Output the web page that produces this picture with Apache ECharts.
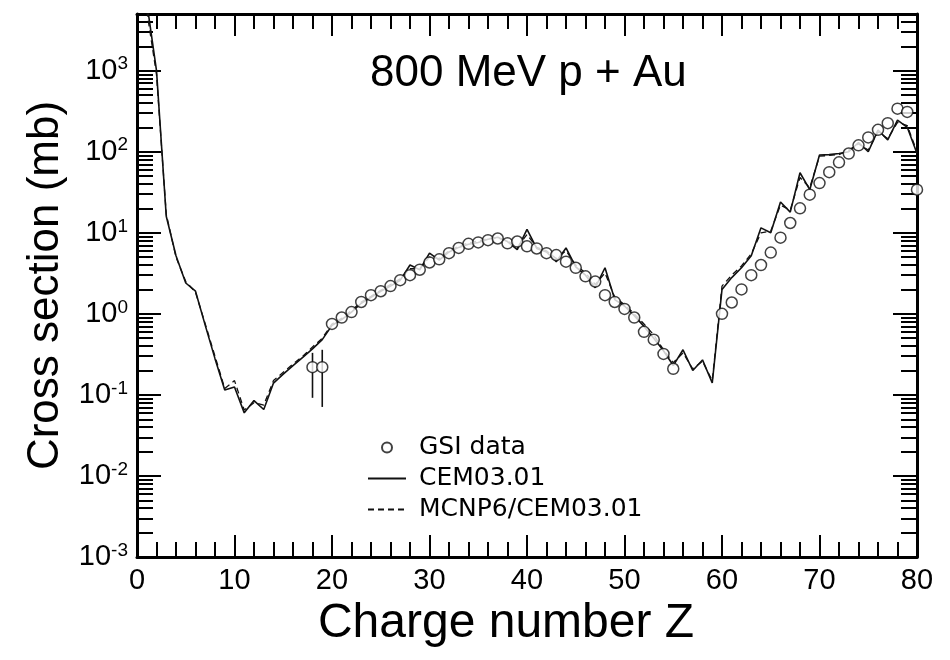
<!DOCTYPE html>
<html><head><meta charset="utf-8">
<script src="https://cdn.jsdelivr.net/npm/echarts@6/dist/echarts.min.js"></script>
<style>html,body{margin:0;padding:0;background:#fff}#c{width:950px;height:660px}</style>
</head><body><div id="c"></div>
<script>
// ---- data ----
const zValues = [1,2,3,4,5,6,7,8,9,10,11,12,13,14,15,16,17,18,19,20,21,22,23,24,25,26,27,28,29,30,31,32,33,34,35,36,37,38,39,40,41,42,43,44,45,46,47,48,49,50,51,52,53,54,55,56,57,58,59,60,61,62,63,64,65,66,67,68,69,70,71,72,73,74,75,76,77,78,79,80];
const cemValues = [7000,1000,16,5.2,2.4,1.9,0.72,0.28,0.115,0.125,0.06,0.085,0.066,0.14,0.18,0.23,0.29,0.37,0.48,0.72,0.85,1.05,1.35,1.6,1.9,2.2,2.6,4.0,3.5,5.6,4.6,5.8,6.6,7.2,7.6,8.3,8.8,7.8,6.2,11,6.4,5.8,4.4,6.5,3.8,3.0,2.1,3.7,1.5,1.25,0.95,0.7,0.5,0.35,0.23,0.36,0.2,0.27,0.14,2.0,2.8,3.7,5.2,11.5,10,24,18,55,34,91,92,95,100,130,100,185,140,245,200,95];
const mcnpValues = [5500,900,17,5.0,2.5,1.85,0.75,0.3,0.12,0.15,0.065,0.08,0.075,0.15,0.19,0.24,0.3,0.39,0.5,0.75,0.88,1.1,1.4,1.65,1.95,2.3,2.7,3.6,3.6,5.0,4.8,6.0,6.8,7.5,7.9,8.5,8.6,8.0,6.6,9.5,6.6,6.0,4.8,6.0,4.0,3.2,2.3,3.2,1.6,1.3,1.0,0.75,0.55,0.36,0.25,0.33,0.21,0.26,0.15,2.2,3.0,3.9,5.5,10,10.5,22,19,48,36,88,90,92,105,125,105,175,145,230,210,100];
const gsiZ = [18,19,20,21,22,23,24,25,26,27,28,29,30,31,32,33,34,35,36,37,38,39,40,41,42,43,44,45,46,47,48,49,50,51,52,53,54,55,60,61,62,63,64,65,66,67,68,69,70,71,72,73,74,75,76,77,78,79,80];
const gsiValues = [0.22,0.22,0.75,0.9,1.05,1.4,1.7,1.9,2.2,2.6,3.0,3.5,4.3,4.7,5.6,6.5,7.3,7.6,8.1,8.5,7.4,7.8,6.8,6.4,5.6,5.3,4.4,3.7,2.9,2.5,1.7,1.4,1.15,0.9,0.6,0.48,0.32,0.21,1.0,1.38,2.0,3.0,4.0,5.7,8.7,13.2,20,29.5,41,56,74,95,120,150,186,225,340,310,34];
const errZ = [18,19];
const errLow = [0.092,0.071];
const errHigh = [0.33,0.36];
const yDecades = [0.001,0.01,0.1,1,10,100,1000];
const yMinorMultipliers = [2,3,4,5,6,7,8,9];
const xMin = 0, xMax = 80, xMajorStep = 10, xMinorStep = 2;
const yMin = 0.001, yMax = 5000;

const yMinor = [];
yDecades.concat([10000]).forEach(d => yMinorMultipliers.forEach(m => { const v = +(d*m).toPrecision(3); if (v < yMax) yMinor.push(v); }));

const FONT = 'Liberation Sans, Arial, sans-serif';
const chart = echarts.init(document.getElementById('c'), null, {renderer: 'canvas'});

function xAx(grid, pos, step, len, showLabel, showLine) {
  return {
    type: 'value', gridIndex: grid, position: pos, min: xMin, max: xMax, interval: step,
    axisLine: {show: showLine, onZero: false, lineStyle: {color: '#000', width: 3}},
    axisTick: {show: true, inside: true, length: len, lineStyle: {color: '#000', width: 2}},
    axisLabel: {show: showLabel, margin: 9, fontSize: 29, color: '#000', fontFamily: FONT},
    splitLine: {show: false}
  };
}
function yAx(grid, pos, ticks, len, showLabel, showLine) {
  return {
    type: 'log', logBase: 10, gridIndex: grid, position: pos, min: yMin, max: yMax,
    axisLine: {show: showLine, onZero: false, lineStyle: {color: '#000', width: 3}},
    axisTick: {show: true, inside: true, length: len, customValues: ticks, lineStyle: {color: '#000', width: 2}},
    axisLabel: {show: showLabel, customValues: yDecades, margin: 9, color: '#000',
      formatter: function (v) { const e = Math.round(Math.log10(v)); return '{b|10}{s|' + e + '}'; },
      rich: {
        b: {fontSize: 29, fontFamily: FONT, color: '#000', lineHeight: 32},
        s: {fontSize: 19, fontFamily: FONT, color: '#000', lineHeight: 18, verticalAlign: 'top'}
      }},
    splitLine: {show: false}, minorSplitLine: {show: false}
  };
}

const gridBox = {left: 137, right: 33, top: 14, bottom: 103};
const bottomMajor = xAx(0, 'bottom', xMajorStep, 22, true, true);
bottomMajor.name = 'Charge number Z';
bottomMajor.nameLocation = 'middle';
bottomMajor.nameGap = 43;
bottomMajor.nameTextStyle = {fontSize: 48, color: '#000', fontFamily: FONT, padding: [0, 42, 0, 0]};
const leftMajor = yAx(0, 'left', yDecades, 24, true, true);
leftMajor.name = 'Cross section (mb)';
leftMajor.nameLocation = 'middle';
leftMajor.nameGap = 68;
leftMajor.nameRotate = 90;
leftMajor.nameTextStyle = {fontSize: 44, color: '#000', fontFamily: FONT};

const option = {
  backgroundColor: '#fff',
  animation: false,
  title: {text: '800 MeV p + Au', left: 370, top: 52, padding: 0,
    textStyle: {fontSize: 44, fontWeight: 'normal', color: '#000', fontFamily: FONT}},
  legend: {
    orient: 'vertical', left: 362, top: 430, itemWidth: 38, itemHeight: 10, itemGap: 6,
    selectedMode: false,
    textStyle: {fontSize: 25, color: '#000', fontFamily: 'DejaVu Sans, sans-serif', padding: [0, 0, 0, 8]},
    data: [
      {name: 'GSI data'},
      {name: 'CEM03.01', itemStyle: {opacity: 0}},
      {name: 'MCNP6/CEM03.01', itemStyle: {opacity: 0}}
    ]
  },
  grid: [Object.assign({}, gridBox), Object.assign({}, gridBox)],
  xAxis: [
    bottomMajor,
    xAx(0, 'top', xMajorStep, 22, false, true),
    xAx(1, 'bottom', xMinorStep, 15, false, false),
    xAx(1, 'top', xMinorStep, 15, false, false)
  ],
  yAxis: [
    leftMajor,
    yAx(0, 'right', yDecades, 24, false, true),
    yAx(1, 'left', yMinor, 16, false, false),
    yAx(1, 'right', yMinor, 16, false, false)
  ],
  series: [
    {
      name: 'CEM03.01', type: 'line', xAxisIndex: 0, yAxisIndex: 0,
      data: zValues.map((z, i) => [z, cemValues[i]]),
      symbol: 'none', clip: true, itemStyle: {color: '#111'},
      lineStyle: {color: '#111', width: 1.6}, z: 3
    },
    {
      name: 'MCNP6/CEM03.01', type: 'line', xAxisIndex: 0, yAxisIndex: 0,
      data: zValues.map((z, i) => [z, mcnpValues[i]]),
      symbol: 'none', clip: true, itemStyle: {color: '#111'},
      lineStyle: {color: '#111', width: 1.3, type: [6, 4]}, z: 3
    },
    {
      name: 'errbars', type: 'custom', xAxisIndex: 0, yAxisIndex: 0,
      data: errZ.map((z, i) => [z, errLow[i], errHigh[i]]),
      renderItem: function (params, api) {
        const p1 = api.coord([api.value(0), api.value(1)]);
        const p2 = api.coord([api.value(0), api.value(2)]);
        return {type: 'line', shape: {x1: p1[0], y1: p1[1], x2: p2[0], y2: p2[1]},
          style: {stroke: '#111', lineWidth: 1.6}};
      }, z: 4
    },
    {
      name: 'GSI data', type: 'scatter', xAxisIndex: 0, yAxisIndex: 0,
      data: gsiZ.map((z, i) => [z, gsiValues[i]]),
      symbol: 'circle', symbolSize: 11,
      itemStyle: {color: '#fff', borderColor: '#111', borderWidth: 1.5}, z: 5
    }
  ]
};
chart.setOption(option);
</script></body></html>
